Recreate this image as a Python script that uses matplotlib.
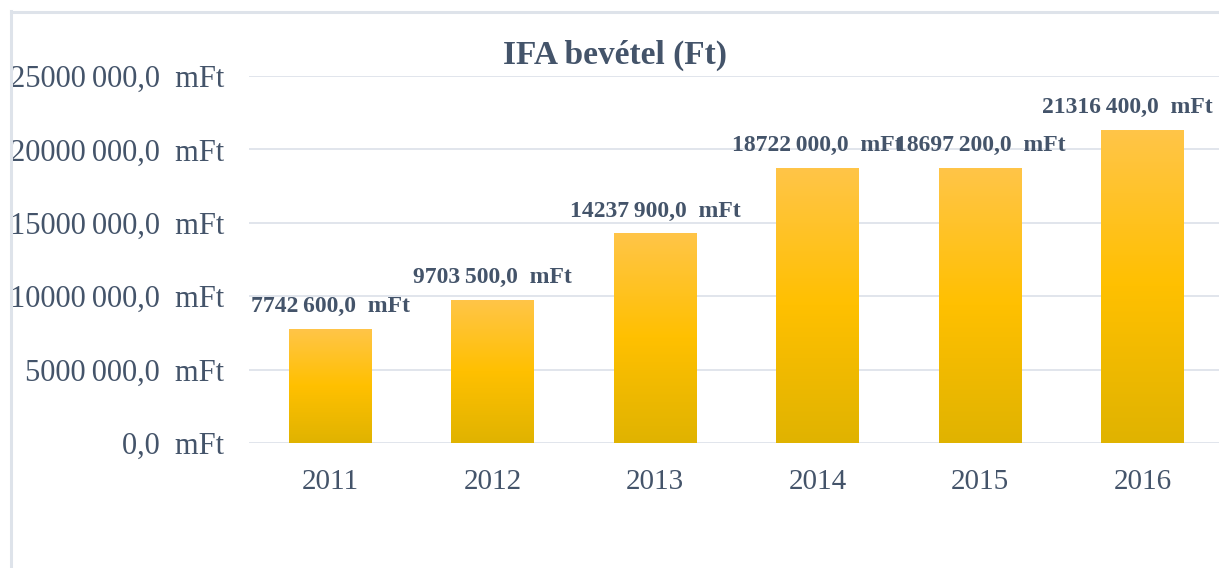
import numpy as np
import matplotlib.pyplot as plt
from matplotlib.colors import LinearSegmentedColormap
from matplotlib.lines import Line2D

years = ["2011", "2012", "2013", "2014", "2015", "2016"]
revenue = [7742600.0, 9703500.0, 14237900.0, 18722000.0, 18697200.0, 21316400.0]
y_ticks = [0, 5000000, 10000000, 15000000, 20000000, 25000000]

TEXT = "#44546A"
GRID = "#DEE3EA"
FONT = ["Liberation Serif", "DejaVu Serif"]


def fmt(v):
    # excel style: only the last thousand group is separated
    whole = int(round(v))
    s = str(whole)
    if len(s) > 3:
        s = s[:-3] + "\u2009" + s[-3:]
    return s + ",0  mFt"


plt.rcParams['font.family'] = FONT

W, H = 1219, 568
fig = plt.figure(figsize=(W / 100, H / 100), dpi=100)

# chart frame (left and top edges visible)
fig.add_artist(Line2D([10.5 / W, 10.5 / W], [0, 1 - 11 / H], color=GRID, lw=2.2))
fig.add_artist(Line2D([10.5 / W, 1], [1 - 11.5 / H, 1 - 11.5 / H], color=GRID, lw=2.2))

left, right = 249, 1224
bottom, top = 443, 76
ax = fig.add_axes([left / W, 1 - bottom / H, (right - left) / W, (bottom - top) / H])

cmap = LinearSegmentedColormap.from_list("gold", ["#E0B300", "#FFC000", "#FFC548"])
grad = np.linspace(0, 1, 256).reshape(-1, 1)

x = np.arange(len(years))
bw = 0.51
bars = ax.bar(x, revenue, width=bw, color="none", zorder=2)
for b in bars:
    bx, by = b.get_x(), b.get_y()
    ax.imshow(grad, cmap=cmap, origin="lower", aspect="auto",
              extent=[bx, bx + b.get_width(), by, by + b.get_height()], zorder=2)
ax.set_xlim(-0.5, 5.5)
ax.set_ylim(0, 25000000)

labels = []
for xi, v in zip(x, revenue):
    t = ax.annotate(fmt(v), (xi, v), xytext=(0, 9), textcoords="offset points",
                    ha="center", va="bottom", fontsize=17, fontweight="bold",
                    color=TEXT, clip_on=False)
    labels.append(t)

ax.set_yticks(y_ticks)
ax.set_yticklabels([fmt(t) for t in y_ticks])
ax.set_xticks(x)
ax.set_xticklabels(years)
ax.tick_params(axis="y", length=0, pad=18, labelsize=22, labelcolor=TEXT)
ax.tick_params(axis="x", length=0, pad=19, labelsize=21, labelcolor=TEXT)
ax.grid(axis="y", color=GRID, lw=1.3, zorder=0)
ax.set_axisbelow(True)
for s in ax.spines.values():
    s.set_visible(False)

fig.text(615 / W, 1 - 55 / H, "IFA bevétel (Ft)", ha="center", va="center",
         fontsize=24, fontweight="bold", color=TEXT)

# keep labels inside the chart area like excel does
fig.canvas.draw()
r = fig.canvas.get_renderer()
for t in labels:
    bb = t.get_window_extent(r)
    over = bb.x1 - (W - 6)
    if over > 0:
        t.set_position((-over * 72 / fig.dpi, 9))

fig.savefig("out.png", dpi=100)
